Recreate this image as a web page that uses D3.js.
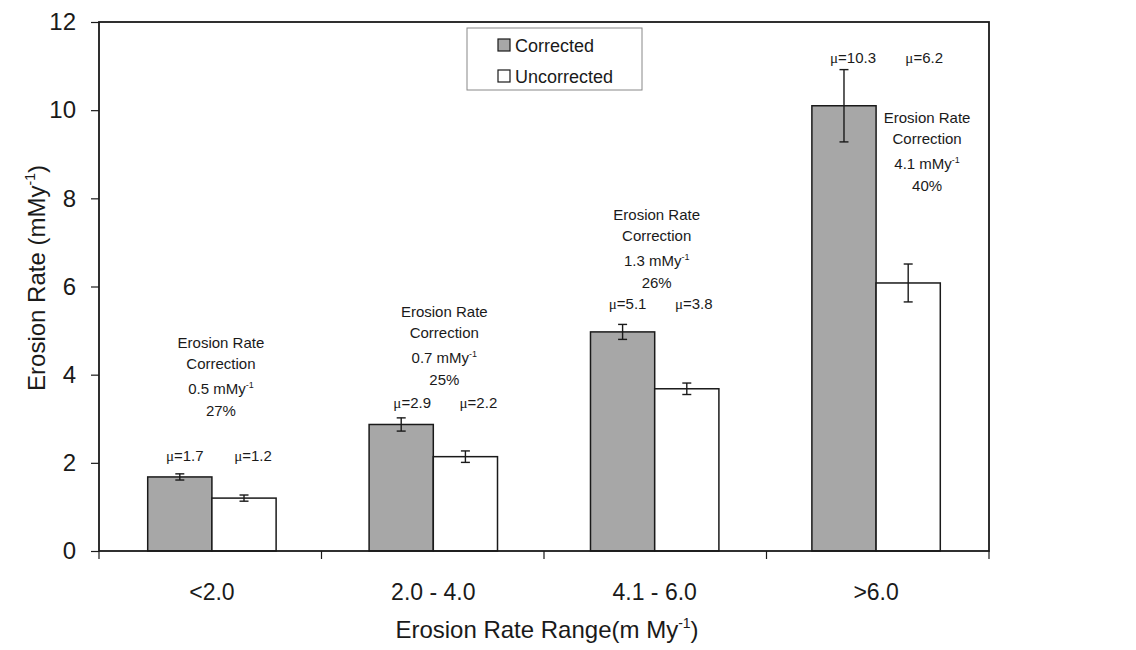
<!DOCTYPE html>
<html>
<head>
<meta charset="utf-8">
<script src="https://cdn.jsdelivr.net/npm/d3@7"></script>
<style>
  body { margin: 0; background: #fff; }
  svg { display: block; font-family: "Liberation Sans", Arial, sans-serif; }
</style>
</head>
<body>
<svg id="chart" width="1136" height="650"></svg>
<script>
// data
const categories = ['<2.0', '2.0 - 4.0', '4.1 - 6.0', '>6.0'];
const seriesNames = ['Corrected', 'Uncorrected'];
const corrected = [1.68, 2.87, 4.97, 10.1];
const uncorrected = [1.2, 2.14, 3.68, 6.08];
const correctedErr = [0.07, 0.15, 0.17, 0.82];
const uncorrectedErr = [0.07, 0.13, 0.13, 0.43];
const correctedMean = ['1.7', '2.9', '5.1', '10.3'];
const uncorrectedMean = ['1.2', '2.2', '3.8', '6.2'];
const correctionRate = ['0.5', '0.7', '1.3', '4.1'];
const correctionPct = ['27%', '25%', '26%', '40%'];
const yTicks = [0, 2, 4, 6, 8, 10, 12];

// where the annotations sit (data units on y, pixel nudges on x)
const annotY = [4.72, 5.42, 7.62, 9.82];
const annotDx = [9, 11, 2, 51];
const muY = [2.16, 3.36, 5.6, 11.2];
const muDx = [[5, 9], [11, 13], [5, 7], [9, 16]];

const svg = d3.select('#chart');
const plotLeft = 99, plotRight = 989, plotTop = 22, plotBottom = 551;

const x = d3.scaleBand().domain(categories).range([plotLeft, plotRight])
  .paddingInner(0.42).paddingOuter(0.22);
const xs = d3.scaleBand().domain(seriesNames).range([0, x.bandwidth()]);
const y = d3.scaleLinear().domain([0, 12]).range([plotBottom, plotTop]);

const color = { Corrected: '#a7a7a7', Uncorrected: '#ffffff' };
const ink = '#1a1a1a';

const rows = categories.map((c, i) => ({
  cat: c, i,
  vals: [
    { s: 'Corrected', v: corrected[i], e: correctedErr[i], mu: correctedMean[i] },
    { s: 'Uncorrected', v: uncorrected[i], e: uncorrectedErr[i], mu: uncorrectedMean[i] }
  ]
}));

// y axis
const yAxis = svg.append('g')
  .attr('transform', `translate(${plotLeft},0)`)
  .call(d3.axisLeft(y).tickValues(yTicks).tickSize(8).tickPadding(15));
yAxis.select('.domain').remove();
yAxis.selectAll('line').attr('stroke', ink).attr('stroke-width', 1.2);
yAxis.selectAll('text').attr('font-size', 24).attr('fill', ink)
  .attr('font-family', '"Liberation Sans", Arial, sans-serif');

// bars
const groups = svg.append('g').selectAll('g')
  .data(rows).enter().append('g')
  .attr('transform', d => `translate(${x(d.cat)},0)`);

groups.selectAll('rect')
  .data(d => d.vals).enter().append('rect')
  .attr('x', d => xs(d.s))
  .attr('y', d => y(d.v))
  .attr('width', xs.bandwidth())
  .attr('height', d => y(0) - y(d.v))
  .attr('fill', d => color[d.s])
  .attr('stroke', ink)
  .attr('stroke-width', 1.5);

// error bars
const err = groups.selectAll('g.err')
  .data(d => d.vals).enter().append('g').attr('class', 'err')
  .attr('stroke', ink).attr('stroke-width', 1.4);
err.append('line')
  .attr('x1', d => xs(d.s) + xs.bandwidth() / 2)
  .attr('x2', d => xs(d.s) + xs.bandwidth() / 2)
  .attr('y1', d => y(d.v - d.e))
  .attr('y2', d => y(d.v + d.e));
[1, -1].forEach(sign => {
  err.append('line')
    .attr('x1', d => xs(d.s) + xs.bandwidth() / 2 - 4.5)
    .attr('x2', d => xs(d.s) + xs.bandwidth() / 2 + 4.5)
    .attr('y1', d => y(d.v + sign * d.e))
    .attr('y2', d => y(d.v + sign * d.e));
});

// mean labels and correction notes
groups.each(function (d) {
  const g = d3.select(this);
  d.vals.forEach((v, k) => {
    const t = g.append('text')
      .attr('x', xs(v.s) + xs.bandwidth() / 2 + muDx[d.i][k])
      .attr('y', y(muY[d.i]))
      .attr('dy', '0.35em')
      .attr('text-anchor', 'middle')
      .attr('font-size', 15)
      .attr('fill', ink);
    t.append('tspan').attr('font-family', '"Liberation Serif", serif').text('\u03bc');
    t.append('tspan').text('=' + v.mu);
  });

  const cx = x.bandwidth() / 2 + annotDx[d.i];
  const y0 = y(annotY[d.i]);
  const ann = g.append('g').attr('font-size', 15).attr('fill', ink).attr('text-anchor', 'middle');
  ann.append('text').attr('x', cx).attr('y', y0).attr('dy', '0.35em').text('Erosion Rate');
  ann.append('text').attr('x', cx).attr('y', y0 + 21).attr('dy', '0.35em').text('Correction');
  const r = ann.append('text').attr('x', cx).attr('y', y0 + 46).attr('dy', '0.35em');
  r.append('tspan').text(correctionRate[d.i] + ' mMy');
  r.append('tspan').attr('font-size', 9).attr('dy', -6).text('-1');
  ann.append('text').attr('x', cx).attr('y', y0 + 68).attr('dy', '0.35em').text(correctionPct[d.i]);
});

// frame
svg.append('rect')
  .attr('x', plotLeft).attr('y', plotTop)
  .attr('width', plotRight - plotLeft).attr('height', plotBottom - plotTop)
  .attr('fill', 'none').attr('stroke', ink).attr('stroke-width', 1.8);

// x boundary ticks and labels
const step = (plotRight - plotLeft) / categories.length;
svg.append('g').selectAll('line')
  .data(d3.range(categories.length + 1)).enter().append('line')
  .attr('x1', i => plotLeft + i * step).attr('x2', i => plotLeft + i * step)
  .attr('y1', plotBottom).attr('y2', plotBottom + 8)
  .attr('stroke', ink).attr('stroke-width', 1.2);

svg.append('g').selectAll('text')
  .data(categories).enter().append('text')
  .attr('x', d => x(d) + x.bandwidth() / 2)
  .attr('y', 600)
  .attr('text-anchor', 'middle')
  .attr('font-size', 23)
  .attr('fill', ink)
  .text(d => d);

// axis titles
const xt = svg.append('text')
  .attr('x', 547).attr('y', 638)
  .attr('text-anchor', 'middle')
  .attr('font-size', 24).attr('fill', ink);
xt.append('tspan').text('Erosion Rate Range(m My');
xt.append('tspan').attr('font-size', 14).attr('dy', -10).text('-1');
xt.append('tspan').attr('dy', 10).text(')');

const yt = svg.append('text')
  .attr('transform', 'translate(45,278) rotate(-90)')
  .attr('text-anchor', 'middle')
  .attr('font-size', 24).attr('fill', ink);
yt.append('tspan').text('Erosion Rate (mMy');
yt.append('tspan').attr('font-size', 14).attr('dy', -10).text('-1');
yt.append('tspan').attr('dy', 10).text(')');

// legend
const legend = svg.append('g');
legend.append('rect')
  .attr('x', 467).attr('y', 28).attr('width', 175).attr('height', 62)
  .attr('fill', '#fff').attr('stroke', '#888').attr('stroke-width', 1);
seriesNames.forEach((s, k) => {
  const ly = 52 + k * 31;
  legend.append('rect')
    .attr('x', 498).attr('y', ly - 13).attr('width', 12).attr('height', 12)
    .attr('fill', color[s]).attr('stroke', ink).attr('stroke-width', 1.2);
  legend.append('text')
    .attr('x', 515).attr('y', ly)
    .attr('font-size', 18).attr('fill', ink)
    .text(s);
});
</script>
</body>
</html>
